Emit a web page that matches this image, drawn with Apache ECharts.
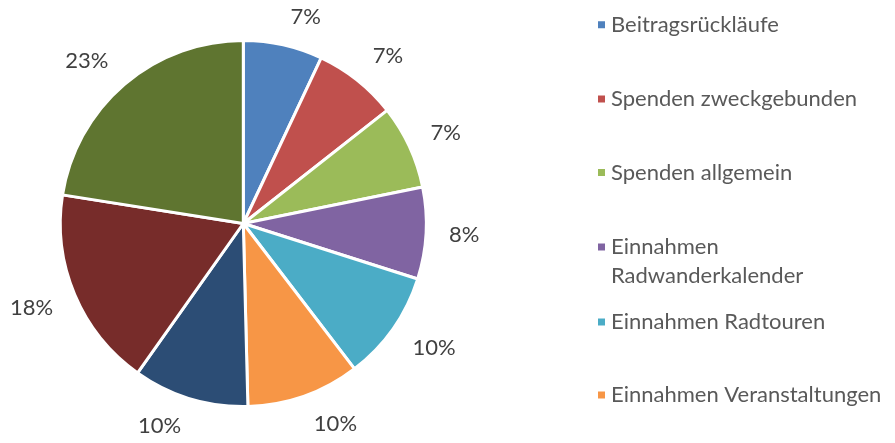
<!DOCTYPE html>
<html>
<head>
<meta charset="utf-8">
<script src="https://cdn.jsdelivr.net/npm/echarts@6/dist/echarts.min.js"></script>
<style>
html,body{margin:0;padding:0;background:#fff;}
#chart{width:895px;height:443px;}
</style>
</head>
<body>
<div id="chart"></div>
<script>
const categories = [
  'Beitragsrückläufe',
  'Spenden zweckgebunden',
  'Spenden allgemein',
  'Einnahmen Radwanderkalender',
  'Einnahmen Radtouren',
  'Einnahmen Veranstaltungen',
  'Einnahmen Sonstiges',
  'Mitgliedsbeiträge',
  'Zuschüsse'
];
const legendLabels = [
  'Beitragsrückläufe',
  'Spenden zweckgebunden',
  'Spenden allgemein',
  'Einnahmen\nRadwanderkalender',
  'Einnahmen Radtouren',
  'Einnahmen Veranstaltungen',
  'Einnahmen Sonstiges',
  'Mitgliedsbeiträge',
  'Zuschüsse'
];
const values = [7.0, 7.4, 7.4, 8.1, 9.7, 10.0, 10.2, 17.7, 22.5];
const colors = ['#4F81BD', '#C0504D', '#9BBB59', '#8064A2', '#4BACC6', '#F79646', '#2C4D75', '#772C2A', '#5F7530'];

const FONT = 'Lato';
const CX = 243.3, CY = 223.5, RADIUS = 183, LABEL_R = 203;
const chart = echarts.init(document.getElementById('chart'), null, {renderer: 'canvas'});
const data = categories.map((c, i) => ({name: c, value: values[i], itemStyle: {color: colors[i]}}));
const total = values.reduce((a, b) => a + b, 0);

const iconCenters = [24.8, 99, 172.5, 247, 322, 395, 469, 543, 617];
const LH = 29;
const legends = categories.map((c, i) => {
  const label = legendLabels[i].indexOf('\n') >= 0 ? '\n' + legendLabels[i] : legendLabels[i];
  const boxH = label.split('\n').length * LH;
  return {
    data: [c],
    orient: 'vertical',
    left: 596,
    top: iconCenters[i] - boxH / 2,
    padding: 0,
    icon: 'rect',
    itemWidth: 9,
    itemHeight: 9,
    selectedMode: false,
    formatter: () => label,
    textStyle: {fontFamily: FONT, fontSize: 22, color: '#595959', lineHeight: LH}
  };
});

function clamp(v) { return Math.max(-1, Math.min(1, v)); }

chart.setOption({
  animation: false,
  legend: legends,
  series: [
    {
      type: 'pie',
      center: [CX, CY],
      radius: [0, RADIUS],
      startAngle: 90,
      clockwise: true,
      avoidLabelOverlap: false,
      data: data,
      label: {
        show: true,
        position: 'outside',
        fontFamily: FONT,
        fontSize: 22,
        color: '#404040',
        formatter: p => Math.round(p.percent) + '%'
      },
      labelLine: {show: false},
      labelLayout: function (p) {
        let cum = 0;
        for (let k = 0; k < p.dataIndex; k++) cum += values[k];
        const a = (cum + values[p.dataIndex] / 2) / total * 2 * Math.PI;
        const ux = Math.sin(a), uy = -Math.cos(a);
        const w = p.labelRect.width;
        const px = CX + LABEL_R * ux, py = CY + LABEL_R * uy;
        return {
          x: px + (w / 2 + 3) * clamp(ux * 5),
          y: py + 8.5 * clamp(uy * 1.6),
          align: 'center',
          verticalAlign: 'middle'
        };
      },
      itemStyle: {borderColor: '#ffffff', borderWidth: 3},
      emphasis: {disabled: true},
      silent: true
    }
  ]
});
</script>
</body>
</html>
